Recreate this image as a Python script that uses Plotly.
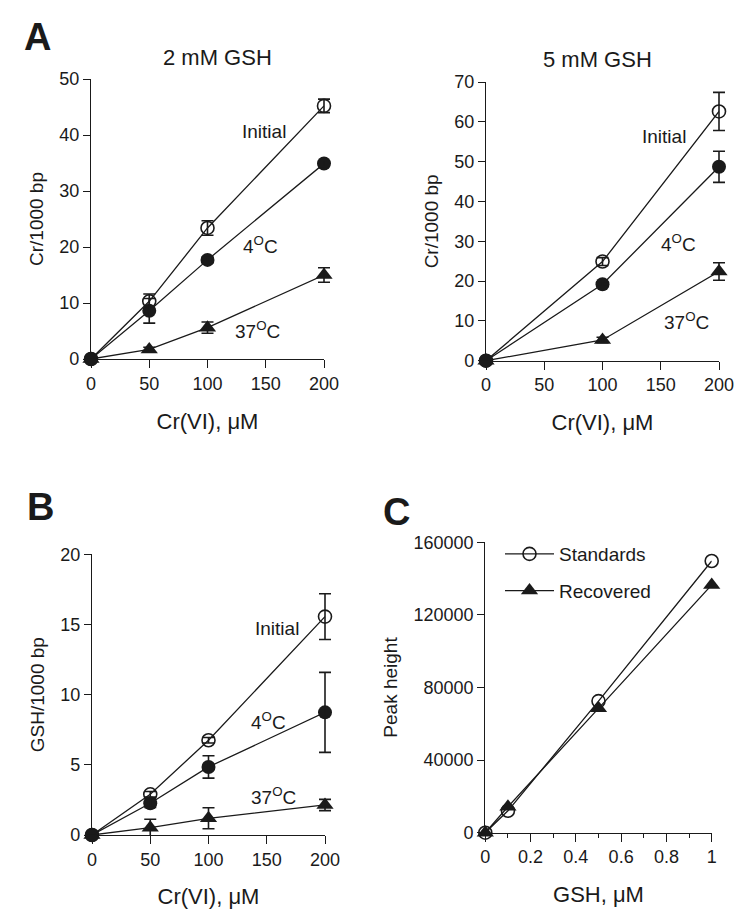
import plotly.graph_objects as go

# ---------------- data ----------------
# Panel A (2 mM GSH)
a2_x = [0, 50, 100, 200]
a2_init = [0, 10.3, 23.4, 45.2]
a2_init_err = [0, 1.3, 1.3, 1.2]
a2_4c = [0, 8.6, 17.7, 34.9]
a2_4c_err = [0, 2.2, 0.5, 0.5]
a2_37c = [0, 1.7, 5.6, 15.0]
a2_37c_err = [0, 0.4, 1.0, 1.3]

# Panel A (5 mM GSH)
a5_x = [0, 100, 200]
a5_init = [0, 24.9, 62.6]
a5_init_err = [0, 1.0, 4.8]
a5_4c = [0, 19.2, 48.7]
a5_4c_err = [0, 0.6, 3.9]
a5_37c = [0, 5.2, 22.4]
a5_37c_err = [0, 0.7, 2.2]

# Panel B
b_x = [0, 50, 100, 200]
b_init = [0, 2.9, 6.75, 15.56]
b_init_err = [0, 0.2, 0.2, 1.63]
b_4c = [0, 2.26, 4.85, 8.74]
b_4c_err = [0, 0.3, 0.8, 2.85]
b_37c = [0, 0.52, 1.19, 2.14]
b_37c_err = [0, 0.6, 0.75, 0.4]

# Panel C
c_x = [0, 0.1, 0.5, 1.0]
c_std = [0, 12100, 72500, 149700]
c_rec = [0, 14300, 68500, 136500]

FONT = "Liberation Sans, Arial, Helvetica, sans-serif"
INK = "#1a1a1a"
W, H = 750, 909

fig = go.Figure()


def add_series(x, y, xa, ya, symbol, size, name=None, showlegend=False, group=None):
    fill_open = symbol.endswith("open")
    fig.add_trace(go.Scatter(
        x=x, y=y, xaxis=xa, yaxis=ya, mode="lines+markers",
        name=name, showlegend=showlegend, legendgroup=group,
        line=dict(color=INK, width=1.3),
        marker=dict(symbol=symbol, size=size, color=INK,
                    line=dict(color=INK, width=1.6 if fill_open else 0)),
        cliponaxis=False,
    ))


def add_err(x, y, err, xa, ya):
    # error bars on a hidden, slightly wider x axis with the same scale (avoids cap clipping)
    fig.add_trace(go.Scatter(
        x=x, y=y, xaxis=xa, yaxis=ya, mode="markers", showlegend=False, hoverinfo="skip",
        marker=dict(size=1, color="rgba(0,0,0,0)"),
        error_y=dict(type="data", array=err, visible=True, color=INK, thickness=1.6, width=6),
        cliponaxis=False,
    ))


TRI = 15
add_err(a2_x, a2_37c, a2_37c_err, "x5", "y")
add_err(a2_x, a2_init, a2_init_err, "x5", "y")
add_err(a2_x, a2_4c, a2_4c_err, "x5", "y")
add_err(a5_x, a5_37c, a5_37c_err, "x6", "y2")
add_err(a5_x, a5_init, a5_init_err, "x6", "y2")
add_err(a5_x, a5_4c, a5_4c_err, "x6", "y2")
add_err(b_x, b_37c, b_37c_err, "x7", "y3")
add_err(b_x, b_init, b_init_err, "x7", "y3")
add_err(b_x, b_4c, b_4c_err, "x7", "y3")

# panel A left
add_series(a2_x, a2_37c, "x", "y", "triangle-up", TRI)
add_series(a2_x, a2_init, "x", "y", "circle-open", 13)
add_series(a2_x, a2_4c, "x", "y", "circle", 14)
# panel A right
add_series(a5_x, a5_37c, "x2", "y2", "triangle-up", TRI)
add_series(a5_x, a5_init, "x2", "y2", "circle-open", 13)
add_series(a5_x, a5_4c, "x2", "y2", "circle", 14)
# panel B
add_series(b_x, b_37c, "x3", "y3", "triangle-up", TRI)
add_series(b_x, b_init, "x3", "y3", "circle-open", 13)
add_series(b_x, b_4c, "x3", "y3", "circle", 14)
# panel C
add_series(c_x, c_std, "x4", "y4", "circle-open", 13, name="Standards", showlegend=True, group="s")
add_series(c_x, c_rec, "x4", "y4", "triangle-up", TRI, name="Recovered", showlegend=True, group="r")


def dx(a, b):
    return [a / W, b / W]


def dy(top, bottom):
    return [1 - bottom / H, 1 - top / H]


def wide(a, b, r0, r1, pad=14):
    upp = (r1 - r0) / (b - a)
    return dict(domain=dx(a - pad, b + pad), range=[r0 - pad * upp, r1 + pad * upp],
                visible=False, showgrid=False, zeroline=False, fixedrange=True)


tickfont = dict(family=FONT, size=18, color=INK)
titlefont = dict(family=FONT, size=22, color=INK)
ytitlefont = dict(family=FONT, size=19, color=INK)

common = dict(showline=True, linecolor=INK, linewidth=1.3, ticks="outside",
              tickcolor=INK, tickwidth=1.3, showgrid=False, zeroline=False,
              tickfont=tickfont, automargin=False)

fig.update_layout(
    xaxis=dict(domain=dx(91, 324), range=[0, 200], tickvals=[0, 50, 100, 150, 200], ticklen=8,
               anchor="y", title=dict(text="Cr(VI), μM", font=titlefont, standoff=20), **common),
    yaxis=dict(domain=dy(79, 359), range=[0, 50], tickvals=[0, 10, 20, 30, 40, 50], ticklen=7,
               anchor="x", title=dict(text="Cr/1000 bp", font=ytitlefont, standoff=10), **common),
    xaxis2=dict(domain=dx(486, 719), range=[0, 200], tickvals=[0, 50, 100, 150, 200], ticklen=8,
                anchor="y2", title=dict(text="Cr(VI), μM", font=titlefont, standoff=20), **common),
    yaxis2=dict(domain=dy(82, 360.7), range=[0, 70], tickvals=[0, 10, 20, 30, 40, 50, 60, 70], ticklen=7,
                anchor="x2", title=dict(text="Cr/1000 bp", font=ytitlefont, standoff=10), **common),
    xaxis3=dict(domain=dx(92, 325), range=[0, 200], tickvals=[0, 50, 100, 150, 200], ticklen=8,
                anchor="y3", title=dict(text="Cr(VI), μM", font=titlefont, standoff=20), **common),
    yaxis3=dict(domain=dy(554.3, 835), range=[0, 20], tickvals=[0, 5, 10, 15, 20], ticklen=7,
                anchor="x3", title=dict(text="GSH/1000 bp", font=ytitlefont, standoff=10), **common),
    xaxis4=dict(domain=dx(485.3, 711.7), range=[0, 1], tickvals=[0, 0.2, 0.4, 0.6, 0.8, 1],
                ticktext=["0", "0.2", "0.4", "0.6", "0.8", "1"], ticklen=8,
                minor=dict(tickvals=[0.1, 0.3, 0.5, 0.7, 0.9], ticklen=4, ticks="outside",
                           tickcolor=INK, tickwidth=1.2),
                anchor="y4", title=dict(text="GSH, μM", font=titlefont, standoff=20), **common),
    yaxis4=dict(domain=dy(542.3, 832.7), range=[0, 160000], tickvals=[0, 40000, 80000, 120000, 160000],
                tickformat="d", ticklen=7,
                anchor="x4", title=dict(text="Peak height", font=ytitlefont, standoff=10), **common),
    xaxis5=dict(anchor="y", **wide(91, 324, 0, 200)),
    xaxis6=dict(anchor="y2", **wide(486, 719, 0, 200)),
    xaxis7=dict(anchor="y3", **wide(92, 325, 0, 200)),
    width=W, height=H,
    margin=dict(l=0, r=0, t=0, b=0),
    paper_bgcolor="white", plot_bgcolor="rgba(0,0,0,0)",
    font=dict(family=FONT, color=INK),
    legend=dict(x=500 / W, y=1 - 535 / H, xanchor="left", yanchor="top",
                font=dict(family=FONT, size=19, color=INK), bgcolor="rgba(0,0,0,0)",
                tracegroupgap=9, traceorder="grouped", itemwidth=49),
    showlegend=True,
    hovermode=False,
)

ann = []


def txt(x, y, s, size=18, bold=False):
    ann.append(dict(x=x / W, y=1 - y / H, xref="paper", yref="paper", text=f"<b>{s}</b>" if bold else s,
                    showarrow=False, xanchor="center", yanchor="middle",
                    font=dict(family=FONT, size=size, color=INK)))


txt(37, 37, "A", 38, True)
txt(40, 507, "B", 38, True)
txt(396, 512, "C", 38, True)
txt(217, 58, "2 mM GSH", 22)
txt(597, 59, "5 mM GSH", 22)
# series labels
txt(264, 132, "Initial", 19)
txt(260, 245, "4<sup>O</sup>C", 19)
txt(257, 330, "37<sup>O</sup>C", 19)
txt(664, 136, "Initial", 19)
txt(678, 243, "4<sup>O</sup>C", 19)
txt(686, 321, "37<sup>O</sup>C", 19)
txt(277, 628, "Initial", 19)
txt(268, 721, "4<sup>O</sup>C", 19)
txt(273, 796, "37<sup>O</sup>C", 19)

fig.update_layout(annotations=ann)
fig.write_html("out.html", config={"displayModeBar": False},
               post_script="document.body.style.margin='0';document.body.style.padding='0';")
